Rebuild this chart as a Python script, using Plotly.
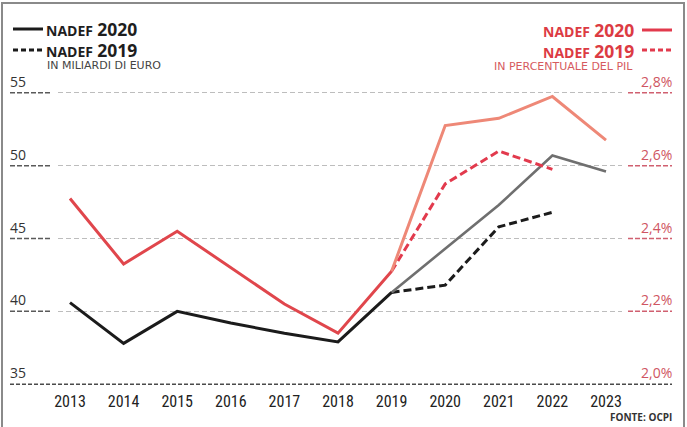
import plotly.graph_objects as go

W, H = 687, 427

# ---------------- data ----------------
years_hist = [2013, 2014, 2015, 2016, 2017, 2018, 2019]
years_fc20 = [2019, 2020, 2021, 2022, 2023]
years_fc19 = [2019, 2020, 2021, 2022]

bn_hist = [40.6, 37.8, 40.0, 39.2, 38.5, 37.9, 41.3]          # NADEF 2020, miliardi (storico)
bn_nadef2020 = [41.3, 44.3, 47.3, 50.7, 49.6]                  # NADEF 2020, miliardi (previsione)
bn_nadef2019 = [41.3, 41.8, 45.8, 46.8]                        # NADEF 2019, miliardi

pct_hist = [2.51, 2.33, 2.42, 2.32, 2.22, 2.14, 2.31]          # NADEF 2020, % PIL (storico)
pct_nadef2020 = [2.31, 2.71, 2.73, 2.79, 2.67]                 # NADEF 2020, % PIL (previsione)
pct_nadef2019 = [2.31, 2.55, 2.64, 2.59]                       # NADEF 2019, % PIL

year_ticks = list(range(2013, 2024))
left_ticks = [35, 40, 45, 50, 55]
right_ticks = [2.0, 2.2, 2.4, 2.6, 2.8]
right_labels = ["2,0%", "2,2%", "2,4%", "2,6%", "2,8%"]
legend_years = ["2020", "2019"]

# ---------------- layout geometry ----------------
T, B = 87, 37
PLOT_TOP, PLOT_BOT = T, H - B
X_L, X_R = 10, 672
Y_RANGE = [34.6, 55.4]
Y2_RANGE = [2.0 + (Y_RANGE[0] - 35) * 0.04, 2.0 + (Y_RANGE[1] - 35) * 0.04]
px_per_year = 53.6
x_span = (X_R - X_L) / px_per_year
x0 = 2013 - (70 - X_L) / px_per_year
X_RANGE = [x0, x0 + x_span]


def px(x):
    return x / W


def py(y):
    return (PLOT_BOT - y) / (PLOT_BOT - PLOT_TOP)


BLACK = "#1b1b1b"
GRAY = "#6f6f6f"
RED = "#e0464c"
SALMON = "#ee8877"
RED_D = "#e23a4d"
TXT_RED = "#dc3b43"
LBL_RED = "#cf5562"

FONT = "Open Sans, Noto Sans, sans-serif"
WIDE = "DejaVu Sans, Open Sans, sans-serif"
NARROW = "Liberation Sans Narrow, Arial Narrow, Roboto Condensed, DejaVu Sans Condensed, sans-serif"

fig = go.Figure()

# percentage series (right axis)
fig.add_trace(go.Scatter(x=years_fc19, y=pct_nadef2019, yaxis="y2", mode="lines",
                         line=dict(color=RED_D, width=3, dash="8px,4px"), showlegend=False))
fig.add_trace(go.Scatter(x=years_fc20, y=pct_nadef2020, yaxis="y2", mode="lines",
                         line=dict(color=SALMON, width=3), showlegend=False))
fig.add_trace(go.Scatter(x=years_hist, y=pct_hist, yaxis="y2", mode="lines",
                         line=dict(color=RED, width=3), showlegend=False))
# billions series (left axis)
fig.add_trace(go.Scatter(x=years_fc19, y=bn_nadef2019, mode="lines",
                         line=dict(color=BLACK, width=3, dash="8px,4px"), showlegend=False))
fig.add_trace(go.Scatter(x=years_fc20, y=bn_nadef2020, mode="lines",
                         line=dict(color=GRAY, width=2.6), showlegend=False))
fig.add_trace(go.Scatter(x=years_hist, y=bn_hist, mode="lines",
                         line=dict(color=BLACK, width=3), showlegend=False))

shapes = []
# darker gridline ends (left, under labels) and red ends (right, under labels)
for v in left_ticks:
    if v == 35:
        continue
    shapes.append(dict(type="line", xref="paper", yref="y", x0=px(X_L), x1=px(55), y0=v, y1=v,
                       line=dict(color="white", width=3), layer="above"))
    shapes.append(dict(type="line", xref="paper", yref="y", x0=px(X_L), x1=px(52), y0=v, y1=v,
                       line=dict(color="#5a5a5a", width=1.5, dash="5px,2px"), layer="above"))
    shapes.append(dict(type="line", xref="paper", yref="y", x0=px(622), x1=px(X_R), y0=v, y1=v,
                       line=dict(color="white", width=3), layer="above"))
    shapes.append(dict(type="line", xref="paper", yref="y", x0=px(628), x1=px(X_R), y0=v, y1=v,
                       line=dict(color="#d06070", width=1.5, dash="5px,2px"), layer="above"))
# bottom baseline
shapes.append(dict(type="line", xref="paper", yref="y", x0=px(X_L), x1=px(X_R), y0=35, y1=35,
                   line=dict(color="white", width=3), layer="above"))
shapes.append(dict(type="line", xref="paper", yref="y", x0=px(X_L), x1=px(X_R), y0=35, y1=35,
                   line=dict(color="#4a4a4a", width=1.5, dash="4px,2px"), layer="above"))

# legend swatches
shapes.append(dict(type="line", xref="paper", yref="paper", x0=px(13), x1=px(43), y0=py(29), y1=py(29),
                   line=dict(color=BLACK, width=3)))
shapes.append(dict(type="line", xref="paper", yref="paper", x0=px(13), x1=px(43), y0=py(50), y1=py(50),
                   line=dict(color=BLACK, width=3, dash="5px,3px")))
shapes.append(dict(type="line", xref="paper", yref="paper", x0=px(642), x1=px(672), y0=py(30), y1=py(30),
                   line=dict(color=RED_D, width=3)))
shapes.append(dict(type="line", xref="paper", yref="paper", x0=px(642), x1=px(672), y0=py(50), y1=py(50),
                   line=dict(color=RED_D, width=3, dash="5px,3px")))

# frame
shapes.append(dict(type="rect", xref="paper", yref="paper", x0=px(2), x1=px(684), y0=py(3), y1=py(445),
                   line=dict(color="#8a8a8a", width=2), fillcolor="rgba(0,0,0,0)"))

ann = []

# axis tick labels above the gridlines
for v in left_ticks:
    ann.append(dict(xref="paper", yref="y", x=px(9), y=v, xanchor="left", yanchor="bottom",
                    text=str(v), showarrow=False, borderpad=0, yshift=1,
                    font=dict(family=FONT, size=14, color="#333333")))
for v, t in zip(right_ticks, right_labels):
    ann.append(dict(xref="paper", yref="y2", x=px(673), y=v, xanchor="right", yanchor="bottom",
                    text=t, showarrow=False, borderpad=0, yshift=1,
                    font=dict(family=FONT, size=14, color=LBL_RED)))

legend_block = "<br>".join(
    "<b><span style='font-size:14px'>NADEF</span> <span style='font-size:17.5px'>" + y + "</span></b>"
    for y in legend_years)

ann.append(dict(xref="paper", yref="paper", x=px(45), y=py(39.5), xanchor="left", yanchor="middle",
                text=legend_block, align="left", showarrow=False, borderpad=0,
                font=dict(family=FONT, size=16.2, color="#1e1e1e")))
ann.append(dict(xref="paper", yref="paper", x=px(635), y=py(40), xanchor="right", yanchor="middle",
                text=legend_block, align="right", showarrow=False, borderpad=0,
                font=dict(family=FONT, size=16.2, color=TXT_RED)))

ann.append(dict(xref="paper", yref="paper", x=px(46), y=py(65.5), xanchor="left", yanchor="middle",
                text="IN MILIARDI DI EURO", showarrow=False, borderpad=0,
                font=dict(family=WIDE, size=11, color="#444444")))
ann.append(dict(xref="paper", yref="paper", x=px(634), y=py(66.5), xanchor="right", yanchor="middle",
                text="IN PERCENTUALE DEL PIL", showarrow=False, borderpad=0,
                font=dict(family=WIDE, size=11, color="#d65a5e")))

ann.append(dict(xref="paper", yref="paper", x=px(673), y=py(417), xanchor="right", yanchor="middle",
                text="<b>FONTE: OCPI</b>", showarrow=False, borderpad=0,
                font=dict(family=FONT, size=10, color="#333333")))

fig.update_layout(
    width=W, height=H,
    margin=dict(l=0, r=0, t=T, b=B),
    paper_bgcolor="white", plot_bgcolor="white",
    showlegend=False,
    shapes=shapes, annotations=ann,
    xaxis=dict(domain=[px(X_L), px(X_R)], range=X_RANGE, tickvals=year_ticks,
               ticktext=[str(y) for y in year_ticks],
               showgrid=False, zeroline=False, showline=False, ticks="",
               tickfont=dict(family=NARROW, size=16, color="#222222")),
    yaxis=dict(range=Y_RANGE, tickvals=left_ticks, showticklabels=False,
               showgrid=True, gridcolor="#bdbdbd", griddash="5px,3px", gridwidth=1.3,
               zeroline=False, showline=False, ticks=""),
    yaxis2=dict(range=Y2_RANGE, overlaying="y", side="right", tickvals=right_ticks,
                showticklabels=False, showgrid=False, zeroline=False, showline=False, ticks=""),
)

fig.write_html("out.html")
